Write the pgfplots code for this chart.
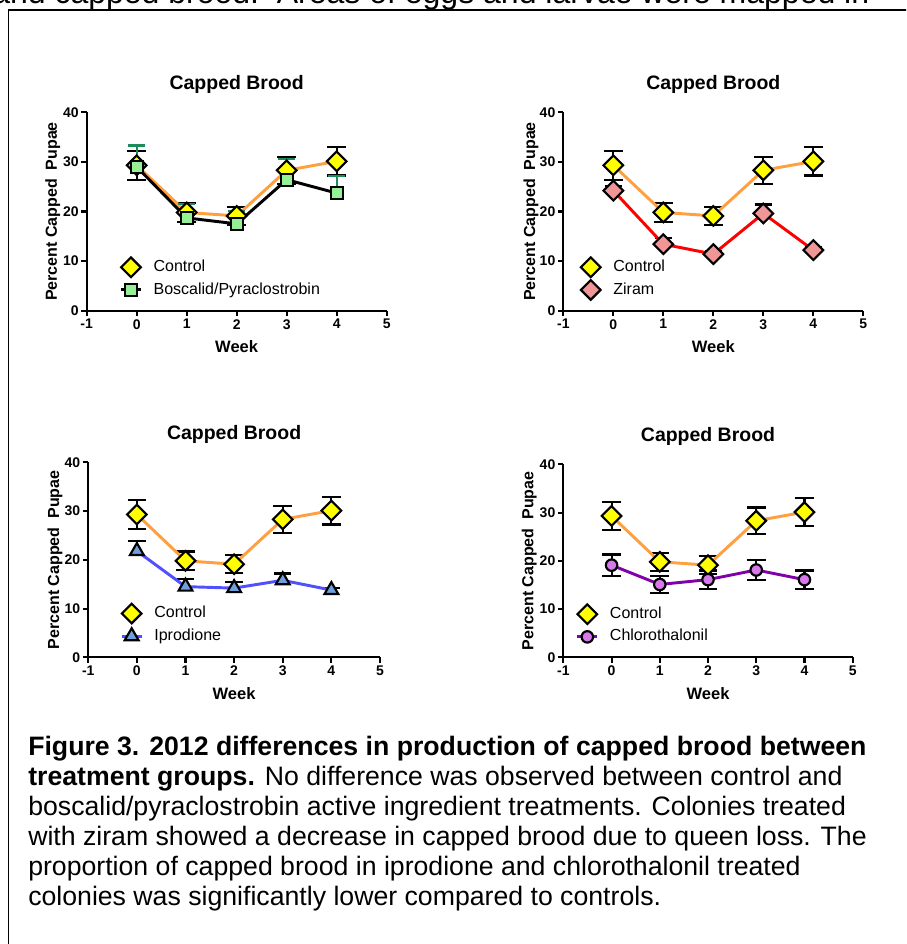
\documentclass[border=0pt]{standalone}
\usepackage{fontspec}
\setmainfont{Liberation Sans}
\usepackage{pgfplots}
\pgfplotsset{compat=1.18}
\usepackage{pgfplotstable}

\definecolor{ctrlline}{RGB}{255,160,64}
\definecolor{ctrlfill}{RGB}{255,255,0}
\definecolor{boscfill}{RGB}{150,240,150}
\definecolor{boscerr}{RGB}{30,140,90}
\definecolor{ziramline}{RGB}{255,0,0}
\definecolor{ziramfill}{RGB}{240,150,150}
\definecolor{iproline}{RGB}{80,80,255}
\definecolor{iprofill}{RGB}{110,160,220}
\definecolor{chloline}{RGB}{128,0,170}
\definecolor{chlofill}{RGB}{215,120,235}

\pgfplotstableread{
x y e
0 29.3 2.9
1 19.8 1.9
2 19.1 1.85
3 28.3 2.75
4 30.1 2.85
}\ctrltab
\pgfplotstableread{
x y e
0 29.0 4.3
1 18.7 2.8
2 17.5 2.6
3 26.4 4.25
4 23.7 3.5
}\bosctab
\pgfplotstableread{
x y e
0 24.2 1.0
1 13.4 1.2
2 11.4 0.6
3 19.6 1.8
4 12.2 0.6
}\ziramtab
\pgfplotstableread{
x y e
0 21.8 2.1
1 14.5 1.5
2 14.2 1.2
3 15.8 1.4
4 13.8 0.4
}\iprotab
\pgfplotstableread{
x y e
0 19.1 2.2
1 15.1 1.7
2 16.1 1.9
3 18.1 2.1
4 16.1 1.9
}\chlotab

\pgfplotsset{
  panel/.style={
    scale only axis,
    anchor=south west,
    xmin=-1, xmax=5, ymin=0, ymax=40,
    xtick={-1,0,1,2,3,4,5}, xticklabels={-1,0,1,2,3,4,5},
    ytick={0,10,20,30,40}, yticklabels={0,10,20,30,40},
    axis lines*=left,
    tick pos=left,
    tick align=outside,
    major tick length=4pt,
    every tick/.style={black, line width=1.6pt},
    axis line style={black, line width=1.6pt},
    tick label style={font=\bfseries\fontsize{10.5}{12}\selectfont},
    yticklabel style={xshift=1.5pt},
    xticklabel style={yshift=1pt},
    title={Capped Brood},
    title style={font=\bfseries\fontsize{14.6}{16}\selectfont, at={(axis description cs:0.5,1)}, anchor=center, yshift=14.8pt},
    xlabel={Week},
    xlabel style={font=\bfseries\fontsize{12.4}{14}\selectfont, at={(axis description cs:0.5,0)}, anchor=center, yshift=-27.2pt},
    ylabel={Percent Capped\ \ Pupae},
    ylabel style={font=\bfseries\fontsize{12}{14}\selectfont, anchor=center},
    clip=false,
    legend cell align=left,
    legend style={draw=none, fill=none, inner sep=0pt, outer sep=0pt, anchor=west,
      row sep=6pt, column sep=9.5pt,
      nodes={inner sep=0pt, text height=8.6pt, text depth=2.4pt, font=\fontsize{12}{14}\selectfont}},
    legend image code/.code={%
      \pgfpathrectangle{\pgfpoint{0pt}{-5pt}}{\pgfpoint{15pt}{10pt}}%
      \pgfusepath{use as bounding box}%
      \draw[overlay, mark repeat=2, mark phase=2, ##1] plot coordinates {(0pt,0pt)(7.5pt,0pt)(15pt,0pt)};},
  },
  ebboth/.style={forget plot, only marks, mark=none,
    error bars/.cd, y dir=both, y explicit,
    error bar style={black, line width=1.6pt},
    error mark options={rotate=90, black, mark size=7pt, line width=1.6pt}},
  ebplus/.style={forget plot, only marks, mark=none,
    error bars/.cd, y dir=plus, y explicit,
    error bar style={black, line width=1.6pt},
    error mark options={rotate=90, black, mark size=6.5pt, line width=1.6pt}},
  ctrl/.style={color=ctrlline, line width=2.2pt, mark=square*, mark size=5.2pt,
    mark options={solid, rotate=45, fill=ctrlfill, draw=black, line width=1.6pt}},
}

\begin{document}
\begin{tikzpicture}
\useasboundingbox (0pt,0pt) rectangle (679.5pt,708pt);
\clip (0pt,0pt) rectangle (679.5pt,708pt);

% text above the box (cut off)
\node[anchor=base west, inner sep=0pt, font=\fontsize{24}{28}\selectfont] at (-6pt,705pt)
  {and capped brood.\ \ Areas of eggs and larvae were mapped in};

% frame
\draw[line width=1pt] (6.2pt,-5pt) -- (6.2pt,700.5pt) -- (690pt,700.5pt);

% Panel 1
\begin{axis}[panel, at={(65.0pt,475.0pt)}, width=225pt, height=148.8pt,
  ylabel style={at={(axis description cs:-0.113,0.5)}},
  legend style={at={(axis cs:-0.314,6.46)}}]
\addplot[ebboth] table[x=x, y=y, y error=e] {\ctrltab};
\addplot[ctrl] table[x=x, y=y] {\ctrltab};
\addlegendentry{Control}
\addplot[forget plot, only marks, mark=none,
  error bars/.cd, y dir=plus, y explicit,
  error bar style={boscerr, line width=1.6pt},
  error mark options={rotate=90, boscerr, mark size=6.2pt, line width=1.6pt}]
  table[x=x, y=y, y error=e] {\bosctab};
\addplot[black, line width=2.2pt, mark=square*, mark size=4.5pt,
  mark options={solid, fill=boscfill, draw=black, line width=1.6pt}]
  table[x=x, y=y] {\bosctab};
\addlegendentry{Boscalid/Pyraclostrobin}
\end{axis}

% Panel 2
\begin{axis}[panel, at={(422.5pt,475.0pt)}, width=225pt, height=148.8pt,
  ylabel style={at={(axis description cs:-0.108,0.5)}},
  legend style={at={(axis cs:-0.652,6.46)}}]
\addplot[ebboth] table[x=x, y=y, y error=e] {\ctrltab};
\addplot[ctrl] table[x=x, y=y] {\ctrltab};
\addlegendentry{Control}
\addplot[ebplus] table[x=x, y=y, y error=e] {\ziramtab};
\addplot[ziramline, line width=2.2pt, mark=square*, mark size=5.2pt,
  mark options={solid, rotate=45, fill=ziramfill, draw=black, line width=1.6pt}]
  table[x=x, y=y] {\ziramtab};
\addlegendentry{Ziram}
\end{axis}

% Panel 3
\begin{axis}[panel, at={(66.2pt,215.0pt)}, width=218.8pt, height=146.25pt,
  ylabel style={at={(axis description cs:-0.114,0.5)}},
  legend style={at={(axis cs:-0.313,6.66)}}]
\addplot[ebboth] table[x=x, y=y, y error=e] {\ctrltab};
\addplot[ctrl] table[x=x, y=y] {\ctrltab};
\addlegendentry{Control}
\addplot[ebplus] table[x=x, y=y, y error=e] {\iprotab};
\addplot[iproline, line width=2.2pt, mark=triangle*, mark size=6pt,
  mark options={solid, fill=iprofill, draw=black, line width=1.6pt}]
  table[x=x, y=y] {\iprotab};
\addlegendentry{Iprodione}
\end{axis}

% Panel 4
\begin{axis}[panel, at={(422.5pt,215.0pt)}, width=217pt, height=144.75pt,
  ylabel style={at={(axis description cs:-0.1175,0.5)}},
  legend style={at={(axis cs:-0.71,6.59)}}]
\addplot[ebboth] table[x=x, y=y, y error=e] {\ctrltab};
\addplot[ctrl] table[x=x, y=y] {\ctrltab};
\addlegendentry{Control}
\addplot[ebboth] table[x=x, y=y, y error=e] {\chlotab};
\addplot[chloline, line width=2.2pt, mark=*, mark size=4.3pt,
  mark options={solid, fill=chlofill, draw=black, line width=1.6pt}]
  table[x=x, y=y] {\chlotab};
\addlegendentry{Chlorothalonil}
\end{axis}

% caption
\begin{scope}[every node/.style={anchor=base west, inner sep=0pt, font=\fontsize{20}{22.5}\selectfont}]
\node at (21pt,141pt) {\textbf{Figure 3. 2012 differences in production of capped brood between}};
\node at (21pt,118.5pt) {\textbf{treatment groups.} No difference was observed between control and};
\node at (21pt,96pt) {boscalid/pyraclostrobin active ingredient treatments. Colonies treated};
\node at (21pt,73.5pt) {with ziram showed a decrease in capped brood due to queen loss. The};
\node at (21pt,51pt) {proportion of capped brood in iprodione and chlorothalonil treated};
\node at (21pt,28.5pt) {colonies was significantly lower compared to controls.};
\end{scope}
\end{tikzpicture}
\end{document}
